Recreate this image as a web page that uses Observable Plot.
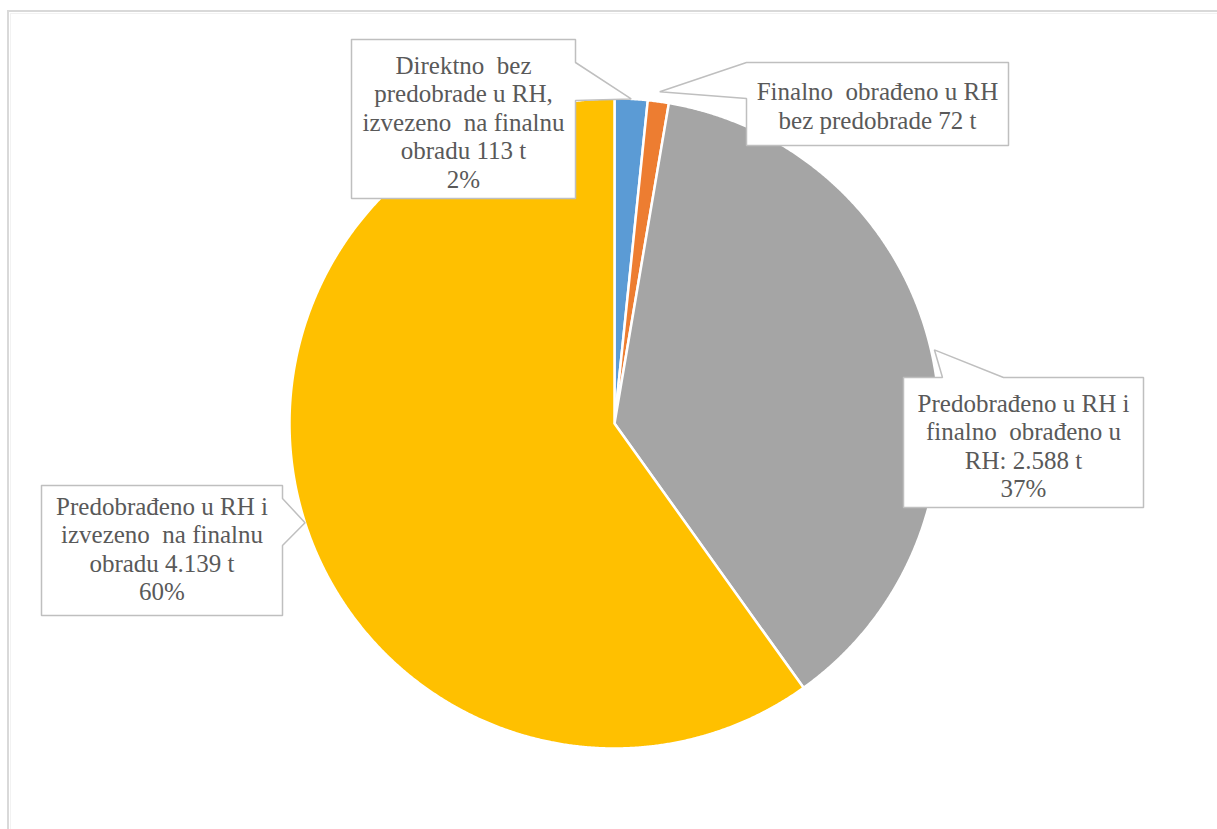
<!DOCTYPE html>
<html>
<head>
<meta charset="utf-8">
<script src="https://cdn.jsdelivr.net/npm/d3@7"></script>
<script src="https://cdn.jsdelivr.net/npm/@observablehq/plot@0.6"></script>
<style>
  html, body { margin: 0; padding: 0; background: #fff; overflow: hidden; width: 1217px; height: 829px; }
  #chart { position: absolute; left: 0; top: 0; }
  #frame { position: absolute; left: 7px; top: 10px; right: -10px; bottom: -10px;
           border-left: 2px solid #d9d9d9; border-top: 2px solid #d9d9d9; pointer-events: none; }
  #frame2 { position: absolute; left: 10px; top: 13px; right: -10px; bottom: -10px;
           border-left: 1px solid #f2f2f2; border-top: 1px solid #f2f2f2; pointer-events: none; }
</style>
</head>
<body>
<div id="chart"></div>
<div id="frame"></div>
<div id="frame2"></div>
<script>
// ---- data ----
const categories = [
  "Direktno bez predobrade u RH, izvezeno na finalnu obradu",
  "Finalno obrađeno u RH bez predobrade",
  "Predobrađeno u RH i finalno obrađeno u RH",
  "Predobrađeno u RH i izvezeno na finalnu obradu"
];
const values = [113, 72, 2588, 4139];
const percentLabels = ["2%", "", "37%", "60%"];
const labelLines = [
  ["Direktno  bez", "predobrade u RH,", "izvezeno  na finalnu", "obradu 113 t"],
  ["Finalno  obrađeno u RH", "bez predobrade 72 t"],
  ["Predobrađeno u RH i", "finalno  obrađeno u", "RH: 2.588 t"],
  ["Predobrađeno u RH i", "izvezeno  na finalnu", "obradu 4.139 t"]
];
const colors = ["#5B9BD5", "#ED7D31", "#A5A5A5", "#FFC000"];

// ---- layout (pixels) ----
const W = 1217, H = 829;
const CX = 614, CY = 423, R = 325;
const layout = [
  {box: [351, 39, 575, 198], side: "right", wedge: [62, 100], tipR: 1.0, tx: 463, ty: 121},
  {box: [746, 62, 1008, 145], side: "left", wedge: [62, 98], tipR: 1.03, tx: 877, ty: 105},
  {box: [903, 377, 1143, 507], side: "top", wedge: [942, 1003], tipR: 1.01, tx: 1023, ty: 445},
  {box: [41, 485, 282, 615], side: "right", wedge: [498, 545], tipR: 1.0, tx: 161.5, ty: 548}
];

// ---- pie geometry from the values ----
const arcs = d3.pie().sort(null).value(d => d)(values);
const slicePts = arcs.flatMap((a, i) => {
  const pts = [{cat: categories[i], x: CX, y: CY}];
  const n = Math.max(3, Math.ceil((a.endAngle - a.startAngle) / 0.004));
  for (let k = 0; k <= n; k++) {
    const t = a.startAngle + (a.endAngle - a.startAngle) * k / n;
    pts.push({cat: categories[i], x: CX + R * Math.sin(t), y: CY - R * Math.cos(t)});
  }
  pts.push({cat: categories[i], x: CX, y: CY});
  return pts;
});

// ---- callouts ----
const calloutPts = [];
const labels = [];
arcs.forEach((a, i) => {
  const L = layout[i];
  const mid = (a.startAngle + a.endAngle) / 2;
  const tip = {x: CX + R * L.tipR * Math.sin(mid), y: CY - R * L.tipR * Math.cos(mid)};
  const [x0, y0, x1, y1] = L.box;
  const [w0, w1] = L.wedge;
  const p = [];
  p.push([x0, y0]);
  if (L.side === "top") { p.push([w0, y0], [tip.x, tip.y], [w1, y0]); }
  p.push([x1, y0]);
  if (L.side === "right") { p.push([x1, w0], [tip.x, tip.y], [x1, w1]); }
  p.push([x1, y1], [x0, y1]);
  if (L.side === "left") { p.push([x0, w1], [tip.x, tip.y], [x0, w0]); }
  p.push([x0, y0]);
  p.forEach(([x, y]) => calloutPts.push({id: i, x, y}));
  const lines = labelLines[i].concat(percentLabels[i] ? [percentLabels[i]] : []);
  labels.push({x: L.tx, y: L.ty, text: lines.join("\n")});
});

const chart = Plot.plot({
  width: W,
  height: H,
  margin: 0,
  x: {domain: [0, W], range: [0, W], axis: null},
  y: {domain: [0, H], range: [0, H], axis: null},
  color: {domain: categories, range: colors},
  style: {background: "transparent"},
  marks: [
    Plot.line(slicePts, {x: "x", y: "y", z: "cat", fill: "cat", stroke: "white", strokeWidth: 2.5, strokeLinejoin: "round"}),
    Plot.line(calloutPts, {x: "x", y: "y", z: "id", fill: "white", stroke: "#BFBFBF", strokeWidth: 1.5, strokeLinejoin: "miter"}),
    Plot.text(labels, {x: "x", y: "y", text: "text", fontSize: 25, fontFamily: "Liberation Serif", fill: "#595959", lineHeight: 1.14, lineAnchor: "middle"})
  ]
});
document.getElementById("chart").appendChild(chart);
</script>
</body>
</html>
